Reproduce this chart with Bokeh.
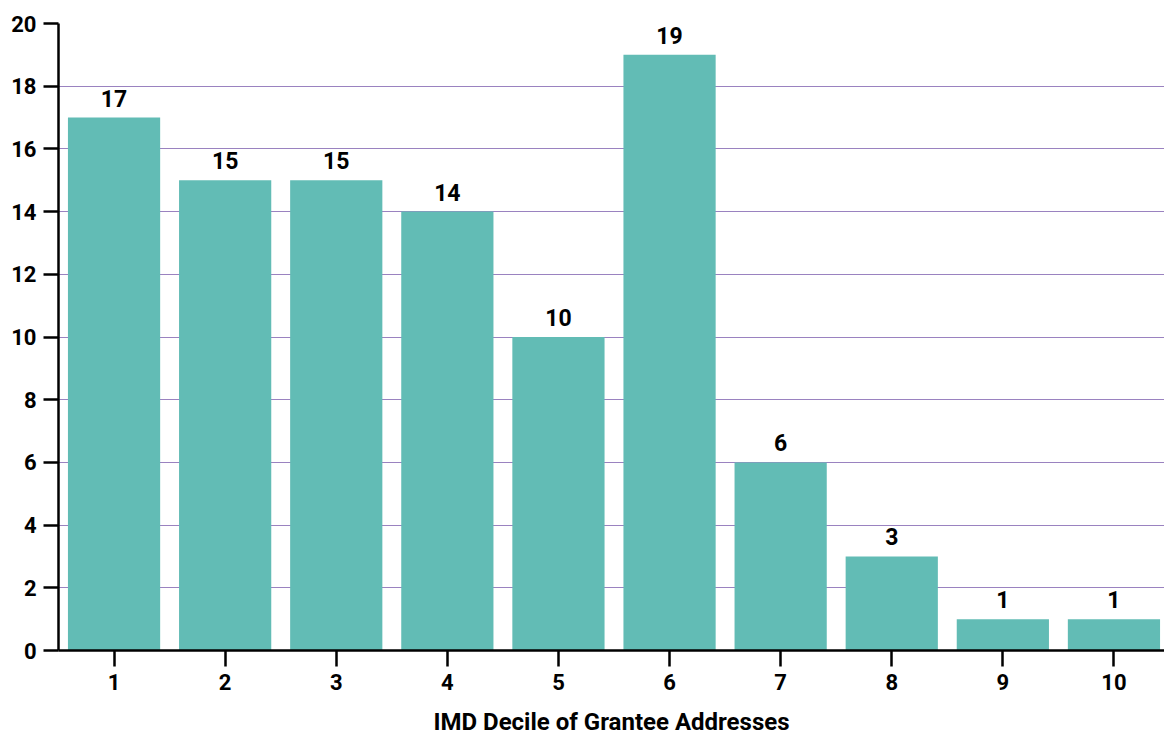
from bokeh.plotting import figure
from bokeh.models import Range1d, ColumnDataSource, FixedTicker, LabelSet
from bokeh.core.properties import value
from bokeh.embed import file_html
from bokeh.resources import INLINE

deciles = [1, 2, 3, 4, 5, 6, 7, 8, 9, 10]
counts = [17, 15, 15, 14, 10, 19, 6, 3, 1, 1]
y_ticks = [0, 2, 4, 6, 8, 10, 12, 14, 16, 18, 20]
x_title = "IMD Decile of Grantee Addresses"

FONT = "Roboto"

src = ColumnDataSource(dict(x=deciles, top=counts, lbl=[str(c) for c in counts]))

p = figure(width=1164, height=738, output_backend="svg", toolbar_location=None,
           x_range=Range1d(0.5, 10.455), y_range=Range1d(0, 20),
           min_border_left=58, min_border_right=0, min_border_top=23, min_border_bottom=88)
p.outline_line_color = None
p.xgrid.grid_line_color = None
p.ygrid.grid_line_color = "#9a82c0"
p.ygrid.grid_line_width = 1.2
p.ygrid.ticker = FixedTicker(ticks=y_ticks)

p.vbar(x="x", top="top", width=0.83, source=src, fill_color="#62bcb5", line_color=None)

labels = LabelSet(x="x", y="top", text="lbl", source=src, text_align="center",
                  text_baseline="bottom", y_offset=11, text_font=value(FONT),
                  text_font_style="bold", text_font_size="23px", text_color="#000000")
p.add_layout(labels)

for ax in (p.xaxis[0], p.yaxis[0]):
    ax.axis_line_color = "black"
    ax.axis_line_width = 2.5
    ax.major_tick_line_color = "black"
    ax.major_tick_line_width = 2.5
    ax.minor_tick_line_color = None
    ax.major_label_text_font = FONT
    ax.major_label_text_font_style = "bold"
    ax.major_label_text_font_size = "22px"
    ax.major_label_text_color = "black"

p.yaxis.ticker = FixedTicker(ticks=y_ticks)
p.yaxis.major_tick_in = 0
p.yaxis.major_tick_out = 15
p.yaxis.major_label_standoff = 7

p.xaxis.ticker = FixedTicker(ticks=deciles)
p.xaxis.major_tick_in = 0
p.xaxis.major_tick_out = 16
p.xaxis.major_label_standoff = 7
p.xaxis.axis_label = x_title
p.xaxis.axis_label_text_font = FONT
p.xaxis.axis_label_text_font_style = "bold"
p.xaxis.axis_label_text_font_size = "24px"
p.xaxis.axis_label_text_color = "black"
p.xaxis.axis_label_standoff = 15

open("out.html", "w").write(file_html(p, INLINE))
